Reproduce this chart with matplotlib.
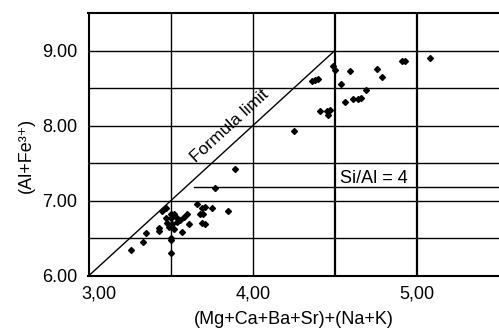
import matplotlib.pyplot as plt
import matplotlib.transforms as mtransforms

# data -----------------------------------------------------------------------

# lower cluster
x_low = [3.26, 3.33, 3.35, 3.43, 3.43, 3.45, 3.47, 3.47, 3.48, 3.50,
         3.50, 3.51, 3.49, 3.52, 3.50, 3.50, 3.50, 3.54, 3.56, 3.58,
         3.60, 3.57, 3.61, 3.66, 3.69, 3.71, 3.68, 3.70, 3.69, 3.71,
         3.75, 3.85, 3.77, 3.89, 3.52, 3.53]
y_low = [6.34, 6.45, 6.57, 6.64, 6.60, 6.87, 6.90, 6.77, 6.71, 6.83,
         6.77, 6.69, 6.65, 6.63, 6.51, 6.48, 6.31, 6.72, 6.74, 6.79,
         6.83, 6.59, 6.69, 6.96, 6.91, 6.92, 6.83, 6.83, 6.71, 6.69,
         6.91, 6.87, 7.17, 7.42, 6.83, 6.79]

# upper cluster
x_high = [4.25, 4.36, 4.38, 4.40, 4.41, 4.45, 4.47, 4.46, 4.49, 4.50,
          4.54, 4.56, 4.59, 4.61, 4.64, 4.66, 4.69, 4.76, 4.79, 4.91,
          4.93, 5.08]
y_high = [7.93, 8.59, 8.61, 8.62, 8.20, 8.20, 8.21, 8.14, 8.80, 8.74,
          8.56, 8.31, 8.73, 8.35, 8.35, 8.37, 8.48, 8.76, 8.65, 8.86,
          8.86, 8.90]

x_ticks = [3.0, 4.0, 5.0]
x_labels = ['3,00', '4,00', '5,00']
y_ticks = [6.0, 7.0, 8.0, 9.0]
y_labels = ['6.00', '7.00', '8.00', '9.00']

h_lines = [6.5, 7.0, 7.5, 8.0, 8.5, 9.0]
v_lines = [3.5, 4.0, 4.5, 5.0]

# formula limit: (3,6) -> (4.5,9)
limit_x = [3.0, 4.5]
limit_y = [6.0, 9.0]

# Si/Al = 4 line
sial_y = 7.18
sial_x0 = 3.645

# plot -----------------------------------------------------------------------

plt.rcParams['font.family'] = ['Liberation Sans', 'DejaVu Sans']

fig = plt.figure(figsize=(4.99, 3.31), dpi=100)
ax = fig.add_axes([88.5 / 499, 55 / 331, 1 - 88.5 / 499, 263 / 331])

ax.set_xlim(3.0, 5.5)
ax.set_ylim(6.0, 9.5)

# grid lines
for y in h_lines:
    ax.axhline(y, color='black', lw=1.0, zorder=1)
for x in v_lines:
    lw = 1.6 if x >= 4.5 else 1.0
    ax.axvline(x, color='black', lw=lw, zorder=1)

ax.plot([sial_x0, 5.5], [sial_y, sial_y], color='black', lw=1.0, zorder=1)
ax.plot(limit_x, limit_y, color='black', lw=1.0, zorder=2)

ax.plot(x_low + x_high, y_low + y_high, linestyle='none', marker='D',
        ms=3.0, color='black', zorder=3)

# texts
ax.text(3.86, 7.99, 'Formula limit', rotation=42.5, ha='center', va='center',
        fontsize=12.5, rotation_mode='anchor')
ax.text(4.74, 7.30, 'Si/Al = 4', ha='center', va='center', fontsize=13)

# axes styling
ax.set_xticks(x_ticks)
ax.set_xticklabels(x_labels, fontsize=13)
ax.set_yticks(y_ticks)
ax.set_yticklabels(y_labels, fontsize=13)
ax.tick_params(length=0, pad=8)
ax.tick_params(axis='x', pad=7)

# first x label sits a bit to the right
offset = mtransforms.ScaledTranslation(10 / 100, 0, fig.dpi_scale_trans)
lab0 = ax.get_xticklabels()[0]
lab0.set_transform(lab0.get_transform() + offset)

ax.spines['right'].set_visible(False)
for s in ['left', 'top', 'bottom']:
    ax.spines[s].set_linewidth(1.5)

ax.set_xlabel('(Mg+Ca+Ba+Sr)+(Na+K)', fontsize=13, labelpad=6)
ax.set_ylabel('(Al+Fe³⁺)', fontsize=13, labelpad=8)
ax.yaxis.set_label_coords(-0.13, 0.46)

fig.savefig('out.png', dpi=100)
